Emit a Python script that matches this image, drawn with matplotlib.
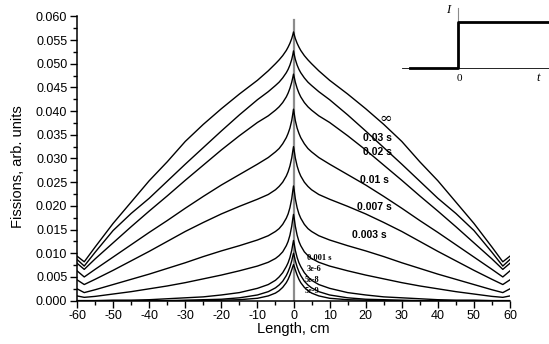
import numpy as np
import matplotlib.pyplot as plt

# left half positions (cm); the right half is the mirror image
x_half = [-60, -58, -55, -50, -45, -40, -35, -30, -25, -20, -15, -10,
          -7, -5, -4, -3, -2, -1.5, -1, -0.5, -0.2, 0]

# fission profiles (left half)
f_inf  = [.0094, .0082, .0113, .0163, .0208, .0253, .0293, .0336, .0372, .0405, .0436, .0465,
          .0485, .0500, .0508, .0517, .0528, .0535, .0543, .0553, .0561, .0567]
f_003  = [.0087, .0073, .0102, .0148, .0184, .0216, .0252, .0288, .0323, .0358, .0392, .0424,
          .0441, .0454, .0461, .0470, .0481, .0488, .0497, .0509, .0519, .0527]
f_002  = [.0079, .0066, .0088, .0122, .0156, .0189, .0221, .0254, .0286, .0318, .0348, .0376,
          .0390, .0402, .0409, .0418, .0430, .0438, .0448, .0461, .0471, .0478]
f_001  = [.0063, .0050, .0066, .0092, .0118, .0144, .0169, .0195, .0220, .0244, .0266, .0288,
          .0302, .0314, .0321, .0331, .0344, .0353, .0364, .0380, .0394, .0404]
f_0007 = [.0044, .0034, .0045, .0064, .0084, .0104, .0125, .0146, .0165, .0183, .0199, .0214,
          .0224, .0234, .0241, .0250, .0263, .0272, .0284, .0301, .0316, .0325]
f_0003 = [.0025, .0017, .0023, .0034, .0045, .0056, .0068, .0080, .0093, .0105, .0116, .0128,
          .0137, .0146, .0152, .0161, .0174, .0183, .0196, .0215, .0232, .0242]
f_0001 = [.0010, .0007, .0009, .0014, .0019, .0025, .0031, .0038, .0046, .0054, .0063, .0073,
          .0081, .0089, .0095, .0103, .0116, .0125, .0138, .0157, .0173, .0182]
f_3e6  = [.0000, .0000, .0000, .0001, .0001, .0002, .0004, .0006, .0008, .0012, .0017, .0026,
          .0034, .0043, .0050, .0059, .0072, .0080, .0091, .0106, .0119, .0127]
f_5e8  = [.0000, .0000, .0000, .0000, .0000, .0000, .0000, .0001, .0002, .0003, .0006, .0012,
          .0019, .0027, .0033, .0041, .0053, .0061, .0071, .0084, .0094, .0100]
f_5e9  = [.0000, .0000, .0000, .0000, .0000, .0000, .0000, .0000, .0000, .0001, .0002, .0005,
          .0010, .0016, .0021, .0028, .0038, .0045, .0054, .0065, .0072, .0076]

curves = [f_inf, f_003, f_002, f_001, f_0007, f_0003, f_0001, f_3e6, f_5e8, f_5e9]

# pulse shape for the inset
t_step = [-0.795, 0, 0, 1.6]
i_step = [0, 0, 1, 1]

plt.rcParams['font.family'] = ['Liberation Sans', 'DejaVu Sans']
plt.rcParams['axes.unicode_minus'] = False

fig = plt.figure(figsize=(5.49, 3.44), dpi=100)
ax = fig.add_axes([0.1403, 0.126, 0.7887, 0.8266])

# full profile = left half + mirrored right half
x_full = x_half + [-v for v in x_half[-2::-1]]
for f in curves:
    y_full = f + f[-2::-1]
    ax.plot(x_full, y_full, color='black', lw=1.0, zorder=3)

# source position
ax.plot([0, 0], [0, 0.0593], color='#8c8c8c', lw=1.6, zorder=2)

ax.set_xlim(-60, 60)
ax.set_ylim(0, 0.060)
ax.set_xticks(np.arange(-60, 61, 10))
ax.set_xticks(np.arange(-55, 60, 10), minor=True)
ax.set_yticks(np.arange(0, 0.0601, 0.005))
ax.set_yticks(np.arange(0.0025, 0.06, 0.005), minor=True)
ax.set_yticklabels(['%.3f' % v for v in np.arange(0, 0.0601, 0.005)])
ax.tick_params(which='major', direction='out', length=5, width=1, labelsize=9, pad=2)
ax.tick_params(which='minor', direction='out', length=3, width=1)
for s in ['top', 'right']:
    ax.spines[s].set_visible(False)
ax.spines['left'].set_linewidth(1.1)
ax.spines['bottom'].set_linewidth(1.1)

ax.set_xlabel('Length, cm', fontsize=10.5, labelpad=0)
ax.set_ylabel('Fissions, arb. units', fontsize=10.5)
ax.yaxis.set_label_coords(-0.12, 0.47)

# curve labels
ax.text(25.6, 0.0383, '\u221e', fontsize=11, family='DejaVu Serif', ha='center', va='center')
big = dict(fontsize=7.5, fontweight='bold', ha='left', va='center', zorder=4)
ax.text(19.3, 0.0343, '0.03 s', **big)
ax.text(19.3, 0.0314, '0.02 s', **big)
ax.text(18.4, 0.0254, '0.01 s', **big)
ax.text(17.6, 0.0198, '0.007 s', **big)
ax.text(16.2, 0.0139, '0.003 s', **big)
small = dict(fontsize=6, fontweight='bold', family='Liberation Serif', ha='left', va='center', zorder=4)
ax.text(3.7, 0.0089, '0.001 s', **small)
ax.text(3.7, 0.0066, '3e-6', **small)
ax.text(3.2, 0.0044, '5e-8', **small)
ax.text(3.2, 0.0021, '5e-9', **small)

# inset with the pulse shape
ins = fig.add_axes([0.7195, 0.7384, 0.2805, 0.2616])
ins.set_xlim(-1.045, 1.522)
ins.set_ylim(-0.481, 1.488)
ins.axis('off')
ins.plot([-0.933, 1.522], [0, 0], color='black', lw=0.6)
ins.plot([0, 0], [0, 1.313], color='#8c8c8c', lw=0.8)
ins.plot(t_step, i_step, color='black', lw=2)
ins.text(-0.162, 1.269, 'I', family='Liberation Serif', style='italic', fontsize=9, ha='center', va='center')
ins.text(0.02, -0.219, '0', family='Liberation Serif', fontsize=8, ha='center', va='center')
ins.text(1.338, -0.219, 't', family='Liberation Serif', style='italic', fontsize=9, ha='center', va='center')

fig.savefig('out.png', dpi=100)
